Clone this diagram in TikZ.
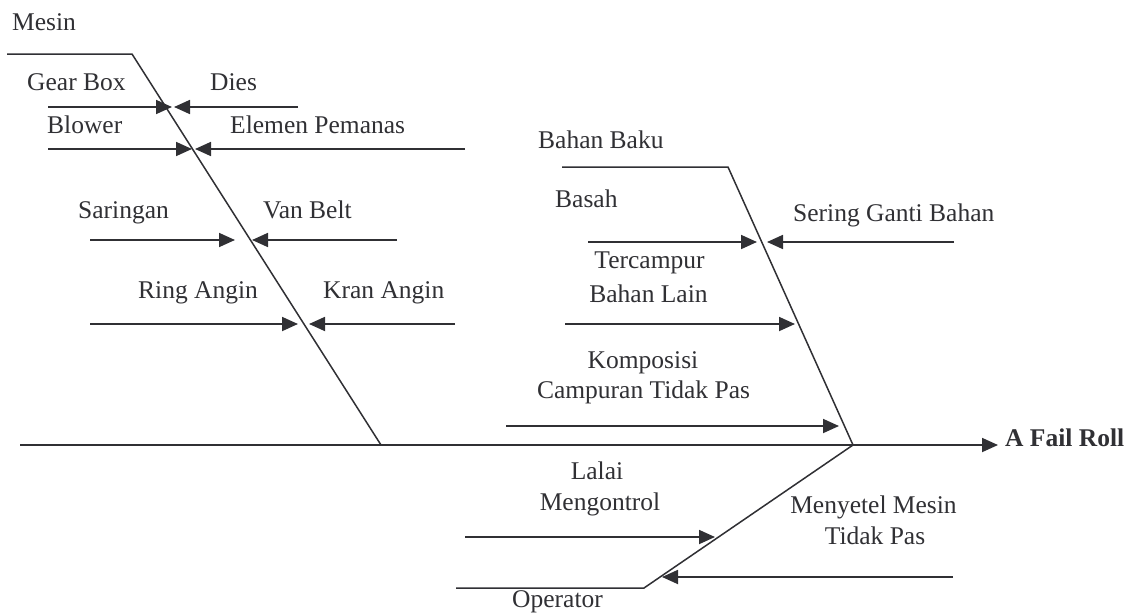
\documentclass[tikz,border=0pt]{standalone}
\usepackage{fontspec}
\setmainfont{Liberation Serif}
\usetikzlibrary{arrows.meta}
\definecolor{ink}{RGB}{48,48,52}
\begin{document}
\begin{tikzpicture}[x=1pt,y=-1pt,
  bone/.style={draw=ink, line width=1.5pt},
  cause/.style={draw=ink, line width=1.8pt, -{Triangle[length=16pt,width=14pt]}},
  spine/.style={draw=ink, line width=1.8pt, -{Triangle[length=16pt,width=14pt]}},
  lbl/.style={text=ink, anchor=base west, inner sep=0pt, font=\fontsize{25.5}{30}\selectfont},
  lblc/.style={lbl, anchor=base},
]
\useasboundingbox (0,0) rectangle (1135,613);
% ---- bone coordinates
\coordinate (m0) at (7,54);
\coordinate (m1) at (132,54);
\coordinate (m2) at (381,445);
\coordinate (s0) at (20,445);
\coordinate (head) at (853,445);
\coordinate (s1) at (998,445);
\coordinate (b0) at (562,167);
\coordinate (b1) at (728,167);
\coordinate (o0) at (456,588);
\coordinate (o1) at (644,588);
% ---- cause coordinates
\coordinate (g0) at (48,107);   \coordinate (g1) at (172,107);
\coordinate (d0) at (298,107);  \coordinate (d1) at (174,107);
\coordinate (bl0) at (48,149);  \coordinate (bl1) at (192,149);
\coordinate (e0) at (465,149);  \coordinate (e1) at (195,149);
\coordinate (sa0) at (90,240);  \coordinate (sa1) at (235,240);
\coordinate (v0) at (397,240);  \coordinate (v1) at (252,240);
\coordinate (r0) at (90,324);   \coordinate (r1) at (298,324);
\coordinate (k0) at (455,324);  \coordinate (k1) at (309,324);
\coordinate (ba0) at (588,242); \coordinate (ba1) at (757,242);
\coordinate (se0) at (954,242); \coordinate (se1) at (767,242);
\coordinate (t0) at (565,324);  \coordinate (t1) at (795,324);
\coordinate (ko0) at (506,426); \coordinate (ko1) at (839,426);
\coordinate (la0) at (465,537); \coordinate (la1) at (715,537);
\coordinate (me0) at (953,577); \coordinate (me1) at (662,577);
% ---- labels
\node[lbl] (mesin) at (12,30) {Mesin};
\node[lbl] (gear) at (27,90) {Gear Box};
\node[lbl] (dies) at (210,90) {Dies};
\node[lbl] (blower) at (47,133) {Blower};
\node[lbl] (elemen) at (230,133) {Elemen Pemanas};
\node[lbl] (saringan) at (78,218) {Saringan};
\node[lbl] (vanbelt) at (263,218) {Van Belt};
\node[lbl] (ring) at (138,298) {Ring Angin};
\node[lbl] (kran) at (323,298) {Kran Angin};
\node[lbl] (bahanbaku) at (538,148) {Bahan Baku};
\node[lbl] (basah) at (555,207) {Basah};
\node[lbl] (sering) at (793,221) {Sering Ganti Bahan};
\node[lblc] (terc1) at (649.5,268) {Tercampur};
\node[lblc] (terc2) at (648.5,302) {Bahan Lain};
\node[lblc] (komp1) at (643,368) {Komposisi};
\node[lblc] (komp2) at (643.5,398) {Campuran Tidak Pas};
\node[lbl, font=\fontsize{25.5}{30}\selectfont\bfseries] (effect) at (1005,446) {A Fail Roll};
\node[lblc] (lalai1) at (597,479) {Lalai};
\node[lblc] (lalai2) at (600,510) {Mengontrol};
\node[lblc] (meny1) at (873.5,513) {Menyetel Mesin};
\node[lblc] (meny2) at (875,544) {Tidak Pas};
\node[lbl] (operator) at (512,607) {Operator};
% ---- bones
\draw[spine] (s0) -- (s1);
\draw[bone] (m0) -- (m1) -- (m2);
\draw[bone] (b0) -- (b1) -- (head);
\draw[bone] (o0) -- (o1) -- (head);
% ---- causes
\draw[cause] (g0) -- (g1);
\draw[cause] (d0) -- (d1);
\draw[cause] (bl0) -- (bl1);
\draw[cause] (e0) -- (e1);
\draw[cause] (sa0) -- (sa1);
\draw[cause] (v0) -- (v1);
\draw[cause] (r0) -- (r1);
\draw[cause] (k0) -- (k1);
\draw[cause] (ba0) -- (ba1);
\draw[cause] (se0) -- (se1);
\draw[cause] (t0) -- (t1);
\draw[cause] (ko0) -- (ko1);
\draw[cause] (la0) -- (la1);
\draw[cause] (me0) -- (me1);
\end{tikzpicture}
\end{document}
